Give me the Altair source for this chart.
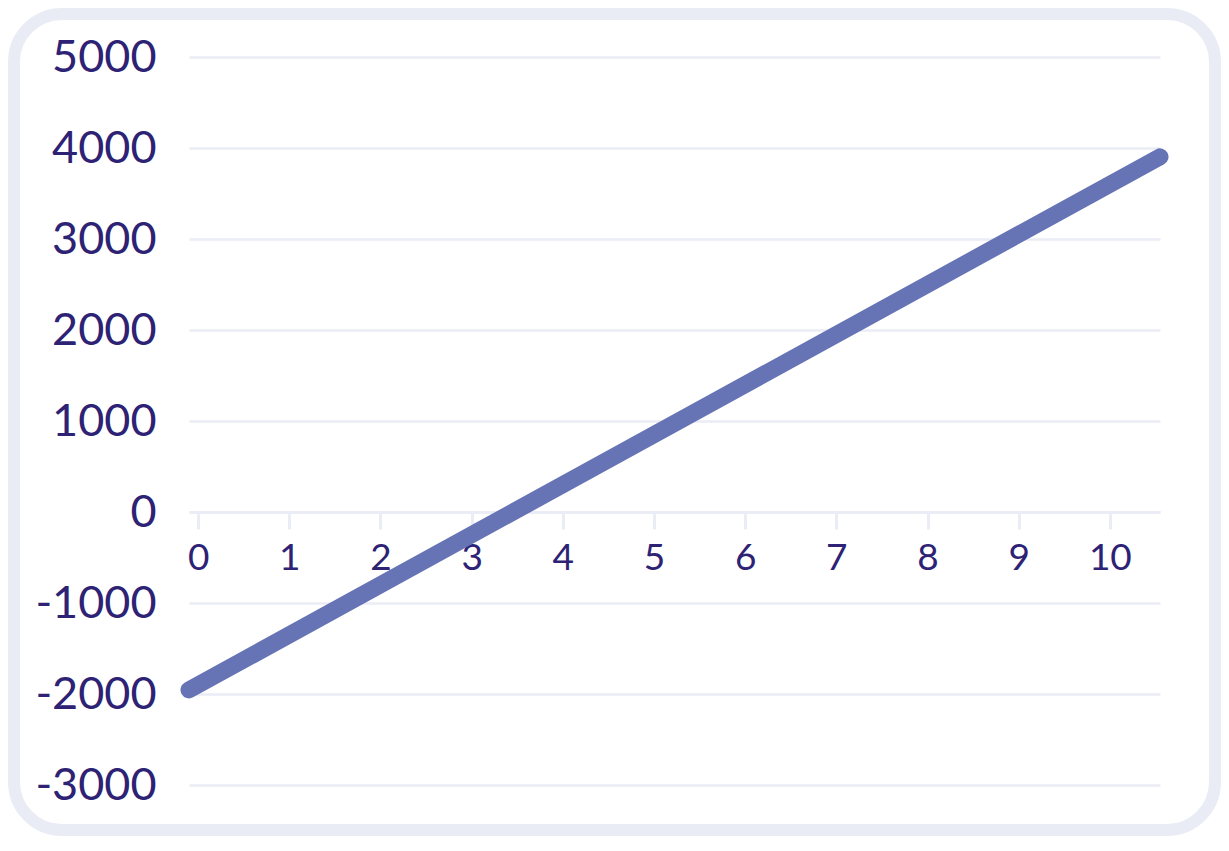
import altair as alt
import pandas as pd

# line end points
x_vals = [-0.1, 10.55]
y_vals = [-1955, 3903]

x_domain = [-0.1, 10.55]
y_domain = [-3000, 5000]
x_ticks = [0, 1, 2, 3, 4, 5, 6, 7, 8, 9, 10]
y_ticks = [-3000, -2000, -1000, 0, 1000, 2000, 3000, 4000, 5000]

LINE_COLOR = "#6674b5"
TEXT_COLOR = "#2d2274"
GRID_COLOR = "#eaedf5"
FRAME_COLOR = "#e9ecf4"

PLOT_W, PLOT_H = 971, 728
PAD_L, PAD_T = 181, 49
SVG_W, SVG_H = 1213, 828

df = pd.DataFrame({"x": x_vals, "y": y_vals})

# where y = 0 sits, so the x axis can be pulled up to it
zero_px = PLOT_H * (y_domain[1] - 0) / (y_domain[1] - y_domain[0])
x_axis_offset = zero_px - PLOT_H

line = (
    alt.Chart(df)
    .mark_line(color=LINE_COLOR, strokeWidth=17, strokeCap="round")
    .encode(
        x=alt.X(
            "x:Q",
            scale=alt.Scale(domain=x_domain, nice=False, zero=False),
            axis=alt.Axis(
                values=x_ticks,
                format="d",
                title=None,
                grid=False,
                domainColor=GRID_COLOR,
                domainWidth=3,
                tickColor=GRID_COLOR,
                tickWidth=3,
                tickSize=17,
                labelFont="Lato",
                labelFontSize=37,
                labelColor=TEXT_COLOR,
                labelPadding=11,
                labelFlush=False,
                offset=x_axis_offset,
            ),
        ),
        y=alt.Y(
            "y:Q",
            scale=alt.Scale(domain=y_domain, nice=False),
            axis=alt.Axis(
                values=y_ticks,
                labelExpr="datum.value + ''",
                title=None,
                domain=False,
                ticks=False,
                gridColor=GRID_COLOR,
                gridWidth=2.5,
                labelFont="Lato",
                labelFontSize=45,
                labelColor=TEXT_COLOR,
                labelPadding=33,
                labelFlush=False,
            ),
        ),
    )
)

# rounded frame round the whole card
frame = (
    alt.Chart(pd.DataFrame({"k": [0]}))
    .mark_rect(filled=False, stroke=FRAME_COLOR, strokeWidth=12, cornerRadius=48)
    .encode(
        x=alt.value(6 - PAD_L),
        x2=alt.value(SVG_W - 6 - PAD_L),
        y=alt.value(6 - PAD_T),
        y2=alt.value(SVG_H - 6 - PAD_T),
    )
)

chart = (
    alt.layer(frame, line)
    .properties(
        width=PLOT_W,
        height=PLOT_H,
        autosize=alt.AutoSizeParams(type="none"),
        padding={
            "left": PAD_L,
            "top": PAD_T,
            "right": SVG_W - PAD_L - PLOT_W,
            "bottom": SVG_H - PAD_T - PLOT_H,
        },
        background="white",
    )
    .configure_view(strokeWidth=0)
)

chart.save("out.html", embed_options={"renderer": "svg", "actions": False})
